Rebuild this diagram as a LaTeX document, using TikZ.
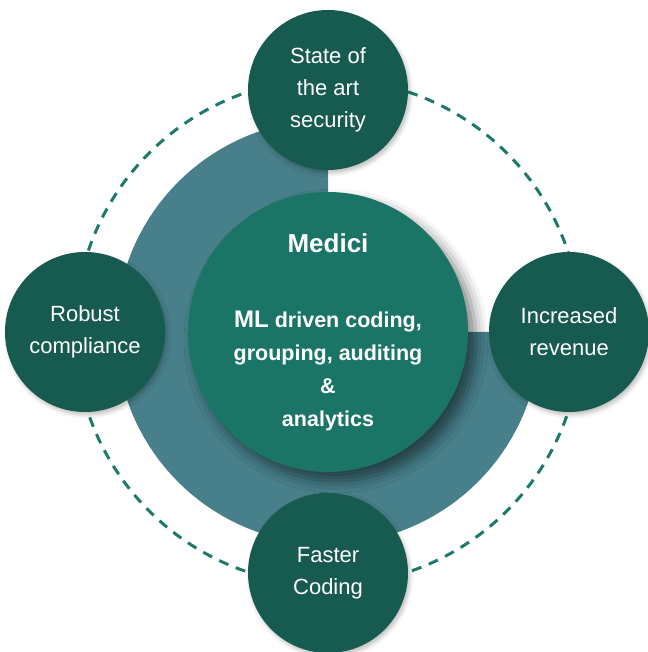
\documentclass[tikz,border=0pt]{standalone}
\usepackage{fontspec}
\setmainfont{Liberation Sans}
\usetikzlibrary{shadows.blur}
\definecolor{ringgreen}{HTML}{1D7A6A}
\definecolor{hubgreen}{HTML}{1B7566}
\definecolor{petal}{HTML}{175A4F}
\definecolor{slate}{HTML}{477F8A}
\begin{document}
\begin{tikzpicture}[x=1pt, y=1pt,
    benefit/.style={circle, fill=petal, text=white, minimum size=160pt, inner sep=0pt, align=center,
      font=\fontsize{22}{32}\selectfont,
      blur shadow={shadow xshift=2pt, shadow yshift=-3pt, shadow blur radius=4pt, shadow opacity=25}},
    hub/.style={circle, fill=hubgreen, text=white, minimum size=280pt, inner sep=0pt, align=center,
      font=\bfseries\fontsize{21.5}{33}\selectfont,
      blur shadow={shadow xshift=8pt, shadow yshift=-9pt, shadow blur radius=12pt, shadow opacity=50}},
    ring/.style={draw=ringgreen, line width=3pt, dash pattern=on 10pt off 8pt}]
    \useasboundingbox (-328,-320) rectangle (319,332);
    \draw[ring] (0,0) circle[radius=253];
    \fill[slate] (0,0) -- (0,212) arc[start angle=90, end angle=360, radius=212] -- cycle;
    \node[hub] (medici) at (0,0) {{\fontsize{26}{30}\selectfont Medici}\\[42pt]{\fontsize{24}{33}\selectfont ML} driven coding,\\grouping, auditing\\\&\\analytics};
    \node[benefit] (security) at (0,242) {State of\\the art\\security};
    \node[benefit] (compliance) at (-243,0) {Robust\\compliance};
    \node[benefit] (revenue) at (241,0) {Increased\\revenue};
    \node[benefit] (faster) at (0,-241) {Faster\\Coding};
\end{tikzpicture}
\end{document}
